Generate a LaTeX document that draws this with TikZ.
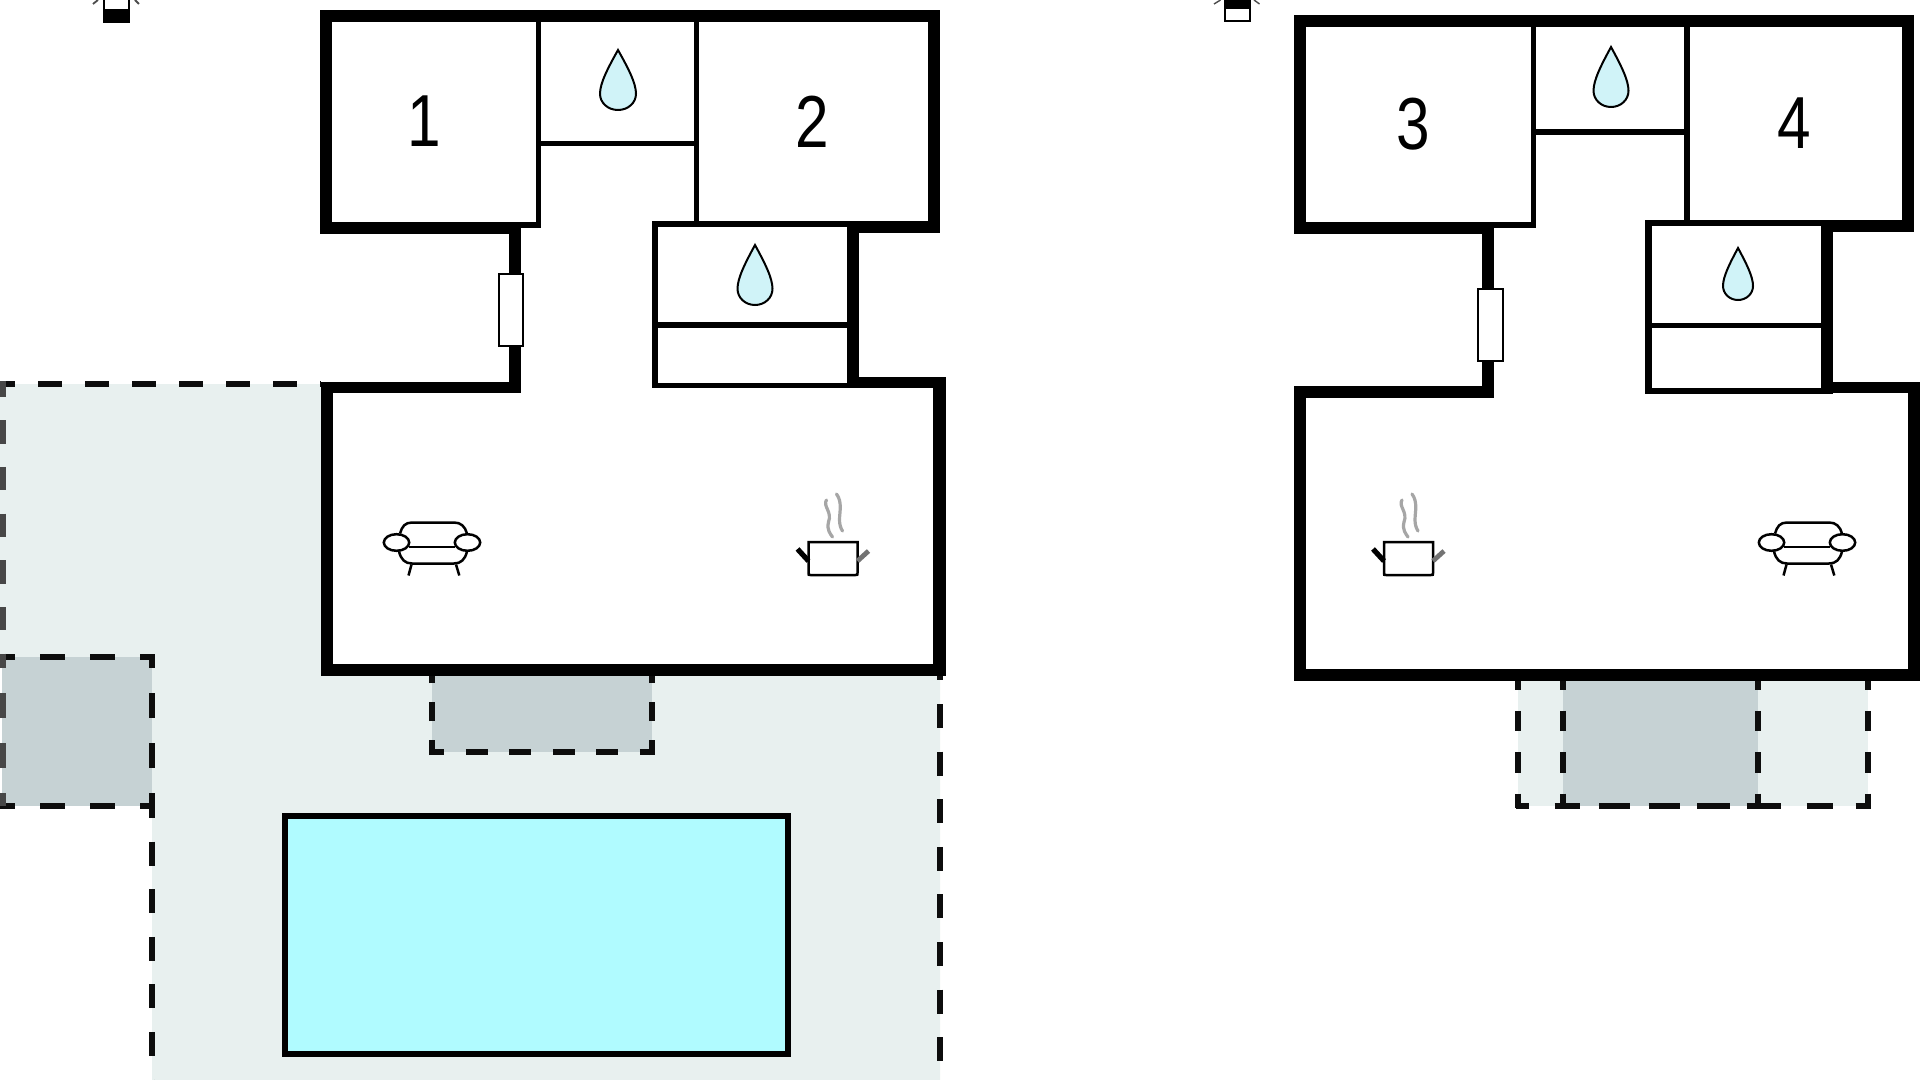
\documentclass[tikz,border=0pt]{standalone}
\usepackage{fontspec}
\usepackage{graphicx}
\setmainfont{Liberation Sans}
\definecolor{terr}{HTML}{E8F0EF}
\definecolor{cover}{HTML}{C6D2D4}
\definecolor{pool}{HTML}{B0FBFF}
\definecolor{dropc}{HTML}{D0F3F8}
\newcommand{\waterdrop}[4]{%
  \begin{scope}[shift={(#1,#2)},xscale=#3,yscale=#4]
    \path[dropshape] (0,0) .. controls (-.28,.3) and (-.5,.55) .. (-.5,.73)
      .. controls (-.5,.88) and (-.28,1) .. (0,1)
      .. controls (.28,1) and (.5,.88) .. (.5,.73)
      .. controls (.5,.55) and (.28,.3) .. (0,0) -- cycle;
  \end{scope}}
\newcommand{\sofaicon}[2]{%
  \begin{scope}[shift={(#1,#2)}]
    \draw[icon] (-32,-9) .. controls (-30,-16) and (-27,-20) .. (-20,-20) -- (22,-20)
       .. controls (29,-20) and (33,-16) .. (35,-9);
    \draw[icon] (-23,4.5) -- (23,4.5);
    \draw[icon] (-33,9) .. controls (-31,17) and (-27,21) .. (-20,21) -- (22,21)
       .. controls (29,21) and (33,17) .. (35,9);
    \draw[icon] (-35.5,0) ellipse (12.7 and 8.3);
    \draw[icon] (35.5,0) ellipse (12.7 and 8.3);
    \draw[icon] (-20.5,22) -- (-23.5,33);
    \draw[icon] (24,22) -- (27.3,33);
  \end{scope}}
\newcommand{\poticon}[2]{%
  \begin{scope}[shift={(#1,#2)}]
    \draw[icon,line join=miter] (0,0) -- (0,31) .. controls (0,33) .. (2,33) -- (47,33) .. controls (49,33) .. (49,31) -- (49,0) -- cycle;
    \draw[line width=2.6pt,line cap=butt] (-11,7) -- (0,19);
    \draw[line width=2.4pt,color=black!55] (49,19) -- (60,9);
    \draw[steam] (18,-42) .. controls (14,-36) and (24,-30) .. (20,-20) .. controls (18,-12) and (22,-8) .. (24,-5);
    \draw[steam] (28,-48) .. controls (34,-40) and (31,-30) .. (31,-22) .. controls (31,-18) and (32,-14) .. (34,-11);
  \end{scope}}
\tikzset{
  x=.5pt,y=-.5pt,
  wall/.style={fill=black,draw=none},
  lightarea/.style={fill=terr,draw=none},
  darkarea/.style={fill=cover,draw=none},
  dashline/.style={draw=black!95,line width=3.2pt,dash pattern=on 12pt off 11.8pt,line cap=butt},
  dashgray/.style={dashline,draw=black!72,dash pattern=on 11.7pt off 11.65pt},
  dashwide/.style={dashline,dash pattern=on 12.5pt off 12.5pt},
  dashshort/.style={dashline,dash pattern=on 10.25pt off 10.4pt},
  icon/.style={draw=black,line width=1.25pt},
  dropshape/.style={fill=dropc,draw=black,line width=1pt},
  steam/.style={draw=black!35,line width=1.6pt,line cap=round},
  winbox/.style={fill=white,draw=black,line width=1pt},
  numlabel/.style={font=\fontsize{33.5}{34}\selectfont,inner sep=0pt,text=black}
}
\begin{document}
\begin{tikzpicture}
\useasboundingbox[fill=white] (0,0) rectangle (1920,1080);
% terrace, left house
\path[lightarea] (0,384) -- (321,384) -- (321,676) -- (940,676) -- (940,1080) -- (152,1080) -- (152,657) -- (0,657) -- cycle;
\path[darkarea] (2,657) rectangle (152,806);
\path[darkarea] (432,676) rectangle (652,752);
% terrace outline
\draw[dashline,dash pattern=on 12pt off 11.5pt] (-9,384) -- (321,384);
\draw[dashgray,dash phase=3.75pt] (3,381) -- (3,657);
% covered square
\draw[dashwide] (-10,657) -- (155,657);
\draw[dashwide] (-10,806) -- (155,806);
\draw[dashwide,dash phase=5.5pt] (152,654) -- (152,806);
\draw[dashgray,dash pattern=on 12.5pt off 12.5pt,dash phase=5.5pt] (3,654) -- (3,806);
\draw[dashline] (152,794) -- (152,1080);
\draw[dashline] (940,656.4) -- (940,1080);
% left porch
\draw[dashline,dash pattern=on 11pt off 10.75pt,dash phase=3.5pt] (429.3,752) -- (655,752);
\draw[dashline,dash pattern=on 9.5pt off 9.5pt,dash phase=2pt] (432,755) -- (432,676);
\draw[dashline,dash pattern=on 9.5pt off 9.5pt,dash phase=2pt] (652,755) -- (652,676);
% pool
\path[fill=pool,draw=black,line width=3pt] (285,816) rectangle (788,1054);
% porch, right house
\path[lightarea] (1518,681) rectangle (1868,806);
\path[darkarea] (1563,681) rectangle (1758,806);
\draw[dashshort] (1518,669.6) -- (1518,808);
\draw[dashshort] (1563,669.6) -- (1563,808);
\draw[dashshort] (1758,669.6) -- (1758,808);
\draw[dashshort] (1868,669.6) -- (1868,808);
\draw[dashline,dash pattern=on 0pt off 0pt,solid]
  (1515.5,806) -- (1529,806) (1554.7,806) -- (1580,806) (1599,806) -- (1630,806)
  (1648.6,806) -- (1680,806) (1697,806) -- (1730,806) (1746.5,806) -- (1781,806)
  (1806.5,806) -- (1833,806) (1855.5,806) -- (1870.6,806);
% left house walls
\path[wall] (320,10) rectangle (940,22);
\path[wall] (320,10) rectangle (332,234);
\path[wall] (928,10) rectangle (940,233);
\path[wall] (320,222) rectangle (521,234);
\path[wall] (521,222) rectangle (541,228);
\path[wall] (536,10) rectangle (541,228);
\path[wall] (694,10) rectangle (699,225);
\path[wall] (541,141) rectangle (694,146);
\path[wall] (652,221) rectangle (859,227);
\path[wall] (847,221) rectangle (940,233);
\path[wall] (652,221) rectangle (658,388);
\path[wall] (847,221) rectangle (859,388);
\path[wall] (652,322) rectangle (850,328);
\path[wall] (652,383) rectangle (850,388);
\path[wall] (509,228) rectangle (521,393);
\path[wall] (321,382) rectangle (521,393);
\path[wall] (847,377) rectangle (946,388);
\path[wall] (321,382) rectangle (333,676);
\path[wall] (933,377) rectangle (946,676);
\path[wall] (321,664) rectangle (946,676);
\node[winbox,minimum width=12pt,minimum height=36pt,inner sep=0pt] (win1) at (511,310.5) {};
% right house walls
\path[wall] (1294,15) rectangle (1914,27);
\path[wall] (1294,15) rectangle (1306,234);
\path[wall] (1902,15) rectangle (1914,232);
\path[wall] (1294,222) rectangle (1494,234);
\path[wall] (1494,222) rectangle (1536,228);
\path[wall] (1531,15) rectangle (1536,228);
\path[wall] (1684,15) rectangle (1690,226);
\path[wall] (1536,129) rectangle (1684,135);
\path[wall] (1645,220) rectangle (1833,226);
\path[wall] (1821,220) rectangle (1914,232);
\path[wall] (1645,220) rectangle (1652,394);
\path[wall] (1821,220) rectangle (1833,394);
\path[wall] (1645,323) rectangle (1825,328);
\path[wall] (1645,388) rectangle (1825,394);
\path[wall] (1482,228) rectangle (1494,398);
\path[wall] (1294,386) rectangle (1494,398);
\path[wall] (1821,382) rectangle (1920,393);
\path[wall] (1294,386) rectangle (1306,681);
\path[wall] (1908,382) rectangle (1920,681);
\path[wall] (1294,669) rectangle (1920,681);
\node[winbox,minimum width=12.5pt,minimum height=36pt,inner sep=0pt] (win2) at (1490.5,325.5) {};
% labels
\node[numlabel] (n1) at (424,121) {\scalebox{.9}[1.1]{1}};
\node[numlabel] (n2) at (812,121.5) {\scalebox{.9}[1.1]{2}};
\node[numlabel] (n3) at (1413,124) {\scalebox{.9}[1.1]{3}};
\node[numlabel] (n4) at (1794,123.5) {\scalebox{.9}[1.1]{4}};
% drops
\waterdrop{618}{50}{36}{60}
\waterdrop{755}{245}{35}{60}
\waterdrop{1611}{47}{35}{60}
\waterdrop{1738}{248}{30}{52}
% icons
\sofaicon{432}{542.5}
\sofaicon{1807}{542.5}
\poticon{808.5}{542}
\poticon{1384}{542}
% north markers
\path[fill=black] (103,9) rectangle (129.5,22.7);
\draw[line width=1pt] (104,0) -- (104,9) (128.5,0) -- (128.5,9);
\draw[line width=.9pt,draw=black!70] (93,4) -- (98,0) (139,4) -- (135,0);
\path[fill=black] (1224,0) rectangle (1250.5,8);
\draw[line width=1pt,fill=white] (1225,8) rectangle (1249.5,21);
\draw[line width=.7pt,draw=black!70] (1214,4) -- (1220.5,0) (1259.5,4) -- (1254,0);
\end{tikzpicture}
\end{document}
